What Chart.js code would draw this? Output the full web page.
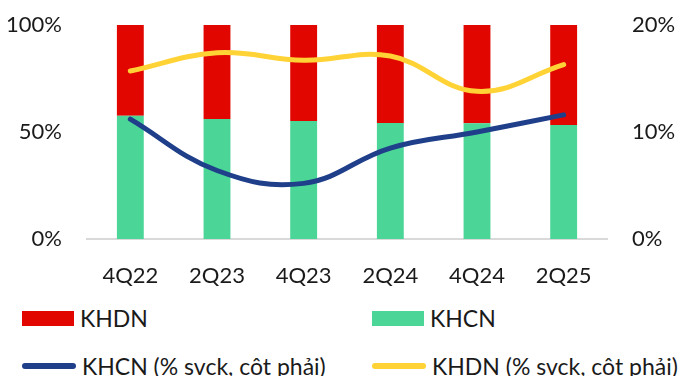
<!DOCTYPE html>
<html>
<head>
<meta charset="utf-8">
<script src="https://cdn.jsdelivr.net/npm/chart.js@4/dist/chart.umd.min.js"></script>
<style>
  html, body { margin: 0; padding: 0; background: #fff; }
  #wrap { position: relative; width: 689px; height: 376px; overflow: hidden; font-family: Lato, "DejaVu Sans", sans-serif; }
  #box { position: absolute; left: 0; top: 0; width: 689px; height: 290px; }
  .lg { position: absolute; display: flex; align-items: center; font-size: 23px; color: #1a1a1a; white-space: nowrap; }
  .sw { display: inline-block; margin-right: 6px; }
</style>
</head>
<body>
<div id="wrap">
  <div id="box"><canvas id="c" width="689" height="290"></canvas></div>
  <div id="legend"></div>
</div>
<script>
// Quarterly loan structure: retail (KHCN) vs corporate (KHDN)
const quarters = ['4Q22', '2Q23', '4Q23', '2Q24', '4Q24', '2Q25'];
const khcnShare = [57.6, 56.1, 55.1, 54.2, 54.1, 53.3];   // % of total loans
const khdnShare = [42.4, 43.9, 44.9, 45.8, 45.9, 46.7];   // % of total loans
const khcnGrowth = [11.2, 6.4, 5.2, 8.5, 10.0, 11.6];      // % YoY, right axis
const khdnGrowth = [15.7, 17.4, 16.7, 17.1, 13.8, 16.3];   // % YoY, right axis
const leftTicks = [0, 50, 100];
const rightTicks = [0, 10, 20];

const RED = '#e10600', GREEN = '#4bd597', BLUE = '#1f3f8a', YELLOW = '#ffd335';
const FONT = { family: 'Lato, "DejaVu Sans", sans-serif', size: 22 };

// fixed axis sizes so the plot area spans x 87..607, y 25..239
const fitY = w => s => { s.width = w; s.paddingTop = 0; s.paddingBottom = 0; };

const chart = new Chart(document.getElementById('c'), {
  type: 'bar',
  data: {
    labels: quarters,
    datasets: [
      { label: 'KHCN', data: khcnShare, backgroundColor: GREEN, yAxisID: 'y', order: 2, stack: 's' },
      { label: 'KHDN', data: khdnShare, backgroundColor: RED, yAxisID: 'y', order: 2, stack: 's' },
      { type: 'line', label: 'KHCN (% svck, côt phải)', data: khcnGrowth, borderColor: BLUE, backgroundColor: BLUE,
        borderWidth: 5, tension: 0.4, pointRadius: 0, borderCapStyle: 'round', yAxisID: 'y1', order: 1 },
      { type: 'line', label: 'KHDN (% svck, côt phải)', data: khdnGrowth, borderColor: YELLOW, backgroundColor: YELLOW,
        borderWidth: 5, tension: 0.4, pointRadius: 0, borderCapStyle: 'round', yAxisID: 'y1', order: 1 }
    ]
  },
  options: {
    responsive: false,
    animation: false,
    layout: { padding: { top: 25, left: 0, right: 0, bottom: 0 } },
    datasets: { bar: { categoryPercentage: 1, barPercentage: 0.31 } },
    plugins: { legend: { display: false }, tooltip: { enabled: false } },
    scales: {
      x: {
        stacked: true,
        grid: { display: false, drawTicks: false },
        border: { display: true, color: '#d9d9d9', width: 2 },
        ticks: { font: FONT, color: '#1a1a1a', padding: 24 },
        afterFit: s => { s.height = 51; s.paddingLeft = 0; s.paddingRight = 0; }
      },
      y: {
        position: 'left', stacked: true, min: 0, max: 100,
        afterBuildTicks: s => { s.ticks = leftTicks.map(v => ({ value: v })); },
        grid: { display: false, drawTicks: false },
        border: { display: false },
        ticks: { font: FONT, color: '#1a1a1a', padding: 25, callback: v => v + '%' },
        afterFit: fitY(87)
      },
      y1: {
        position: 'right', stacked: false, min: 0, max: 20,
        afterBuildTicks: s => { s.ticks = rightTicks.map(v => ({ value: v })); },
        grid: { display: false, drawTicks: false },
        border: { display: false },
        ticks: { font: FONT, color: '#1a1a1a', padding: 25, callback: v => v + '%' },
        afterFit: fitY(82)
      }
    }
  }
});

// Two-column legend built from the chart's datasets
const legendLayout = [
  { ds: 1, left: 22, top: 318, kind: 'box' },
  { ds: 0, left: 372, top: 318, kind: 'box' },
  { ds: 2, left: 22, top: 366, kind: 'line' },
  { ds: 3, left: 372, top: 366, kind: 'line' }
];
const legendEl = document.getElementById('legend');
legendLayout.forEach(item => {
  const d = chart.data.datasets[item.ds];
  const el = document.createElement('div');
  el.className = 'lg';
  el.style.left = item.left + 'px';
  el.style.top = (item.top - 14) + 'px';
  el.style.height = '28px';
  const sw = document.createElement('span');
  sw.className = 'sw';
  if (item.kind === 'box') {
    sw.style.width = '52px'; sw.style.height = '15px'; sw.style.background = d.backgroundColor;
  } else {
    sw.style.width = '54px'; sw.style.height = '6px'; sw.style.borderRadius = '3px'; sw.style.background = d.borderColor;
  }
  el.appendChild(sw);
  const tx = document.createElement('span');
  tx.textContent = d.label;
  el.appendChild(tx);
  legendEl.appendChild(el);
});
</script>
</body>
</html>
